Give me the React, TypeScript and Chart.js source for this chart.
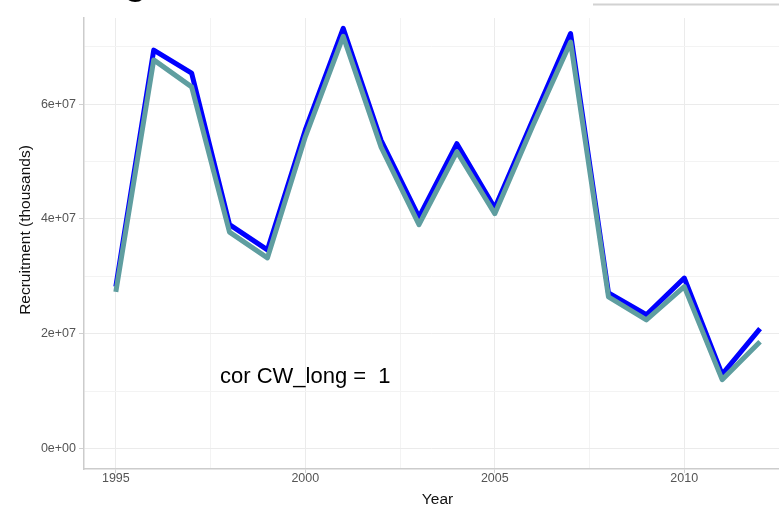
import React, { useEffect, useRef } from 'react';
import { Chart, registerables } from 'chart.js';

Chart.register(...registerables);

const years = [1995, 1996, 1997, 1998, 1999, 2000, 2001, 2002, 2003, 2004, 2005, 2006, 2007, 2008, 2009, 2010, 2011, 2012];
const recruitmentBlue = [28.2e6, 69.4e6, 65.4e6, 39.0e6, 34.6e6, 55.5e6, 73.2e6, 53.7e6, 40.3e6, 53.1e6, 41.9e6, 57.2e6, 72.3e6, 27.1e6, 23.3e6, 29.7e6, 12.9e6, 20.9e6];
const recruitmentTeal = [27.3e6, 67.7e6, 63.0e6, 37.7e6, 33.2e6, 54.3e6, 71.8e6, 52.5e6, 39.0e6, 51.7e6, 40.9e6, 56.2e6, 70.8e6, 26.4e6, 22.4e6, 28.2e6, 12.0e6, 18.6e6];

const yTickValues = [0, 1e7, 2e7, 3e7, 4e7, 5e7, 6e7, 7e7];
const yMajorValues = [0, 2e7, 4e7, 6e7];
const xTickValues = [1995, 1997.5, 2000, 2002.5, 2005, 2007.5, 2010, 2012.5];
const xMajorValues = [1995, 2000, 2005, 2010];

const yTitle = 'Recruitment (thousands)';
const xTitle = 'Year';
const annotationText = 'cor CW_long =  1';
const annotationX = 2000;
const annotationY = 11.4e6;

const FONT = '"Liberation Sans", Arial, Helvetica, sans-serif';

function sci(v: number): string {
  if (v === 0) return '0e+00';
  const e = Math.floor(Math.log10(Math.abs(v)));
  const m = Math.round(v / Math.pow(10, e));
  return `${m}e${e < 0 ? '-' : '+'}${String(Math.abs(e)).padStart(2, '0')}`;
}

const isMajor = (list: number[], v: number) => list.some((m) => Math.abs(m - v) < 1e-6);

const decorPlugin = {
  id: 'decor',
  afterDatasetsDraw(chart: any) {
    const ctx = chart.ctx;
    const xs = chart.scales.x;
    const ys = chart.scales.y;
    ctx.save();
    ctx.fillStyle = '#000000';
    ctx.font = `22px ${FONT}`;
    ctx.textAlign = 'center';
    ctx.textBaseline = 'alphabetic';
    ctx.fillText(annotationText, xs.getPixelForValue(annotationX), ys.getPixelForValue(annotationY));
    ctx.restore();
  },
  afterDraw(chart: any) {
    const ctx = chart.ctx;
    const area = chart.chartArea;
    ctx.save();
    ctx.fillStyle = '#111111';
    ctx.font = `15.5px ${FONT}`;
    ctx.textAlign = 'center';
    ctx.textBaseline = 'middle';
    ctx.translate(26, 230);
    ctx.rotate(-Math.PI / 2);
    ctx.fillText(yTitle, 0, 0);
    ctx.restore();

    ctx.save();
    ctx.fillStyle = '#111111';
    ctx.font = `15.5px ${FONT}`;
    ctx.textAlign = 'center';
    ctx.textBaseline = 'middle';
    ctx.fillText(xTitle, (area.left + area.right) / 2 + 6, 500);
    ctx.restore();

    ctx.save();
    ctx.strokeStyle = '#d2d2d2';
    ctx.lineWidth = 2;
    ctx.beginPath();
    ctx.moveTo(593, 4.5);
    ctx.lineTo(779, 4.5);
    ctx.stroke();
    ctx.restore();

    ctx.save();
    ctx.fillStyle = '#000000';
    ctx.font = `bold 38px ${FONT}`;
    ctx.textAlign = 'left';
    ctx.textBaseline = 'alphabetic';
    ctx.fillText('g', 124, -6);
    ctx.restore();
  },
};

export default function App() {
  const ref = useRef<HTMLCanvasElement | null>(null);

  useEffect(() => {
    document.body.style.margin = '0';
    const canvas = ref.current;
    if (!canvas) return;
    Chart.defaults.font.family = FONT;

    const chart = new Chart(canvas, {
      type: 'line',
      data: {
        labels: years,
        datasets: [
          {
            label: 'CW_long',
            data: years.map((y, i) => ({ x: y, y: recruitmentTeal[i] })),
            borderColor: '#5f9ea0',
            borderWidth: 5,
            pointRadius: 0,
            borderJoinStyle: 'round',
            borderCapStyle: 'butt',
            tension: 0,
            fill: false,
            order: 0,
          },
          {
            label: 'Recruitment',
            data: years.map((y, i) => ({ x: y, y: recruitmentBlue[i] })),
            borderColor: '#0000ff',
            borderWidth: 5,
            pointRadius: 0,
            borderJoinStyle: 'round',
            borderCapStyle: 'butt',
            tension: 0,
            fill: false,
            order: 1,
          },
        ],
      },
      options: {
        responsive: false,
        animation: false,
        devicePixelRatio: 1,
        layout: { padding: { top: 18, left: 0, right: 0, bottom: 0 } },
        plugins: {
          legend: { display: false },
          tooltip: { enabled: false },
          title: { display: false },
        },
        scales: {
          x: {
            type: 'linear',
            min: 1994.16,
            max: 2012.5,
            afterFit: (scale: any) => {
              scale.height = 40;
            },
            afterBuildTicks: (scale: any) => {
              scale.ticks = xTickValues.map((v) => ({ value: v }));
            },
            ticks: {
              autoSkip: false,
              maxRotation: 0,
              minRotation: 0,
              padding: -2,
              color: '#555555',
              font: { size: 12.5, family: FONT },
              callback: (v: any) => (isMajor(xMajorValues, Number(v)) ? String(v) : ''),
            },
            grid: {
              color: (c: any) => (c.tick && isMajor(xMajorValues, c.tick.value) ? '#ebebeb' : '#f3f3f3'),
              lineWidth: 1,
              tickLength: 4,
              tickColor: (c: any) => (c.tick && isMajor(xMajorValues, c.tick.value) ? '#d0d0d0' : 'rgba(0,0,0,0)'),
            },
            border: { display: true, color: '#cccccc', width: 1.5 },
          },
          y: {
            type: 'linear',
            min: -3.57e6,
            max: 75e6,
            afterFit: (scale: any) => {
              scale.width = 84;
            },
            afterBuildTicks: (scale: any) => {
              scale.ticks = yTickValues.map((v) => ({ value: v }));
            },
            ticks: {
              padding: 3,
              color: '#555555',
              font: { size: 12.5, family: FONT },
              callback: (v: any) => (isMajor(yMajorValues, Number(v)) ? sci(Number(v)) : ''),
            },
            grid: {
              color: (c: any) => (c.tick && isMajor(yMajorValues, c.tick.value) ? '#ebebeb' : '#f3f3f3'),
              lineWidth: 1,
              tickLength: 5,
              tickColor: (c: any) => (c.tick && isMajor(yMajorValues, c.tick.value) ? '#d0d0d0' : 'rgba(0,0,0,0)'),
            },
            border: { display: true, color: '#cccccc', width: 1.5 },
          },
        },
      },
      plugins: [decorPlugin],
    } as any);

    return () => chart.destroy();
  }, []);

  return (
    <div style={{ position: 'absolute', left: 0, top: 0, width: 779, height: 509, background: '#ffffff' }}>
      <canvas ref={ref} width={779} height={509} style={{ display: 'block', width: 779, height: 509 }} />
    </div>
  );
}
